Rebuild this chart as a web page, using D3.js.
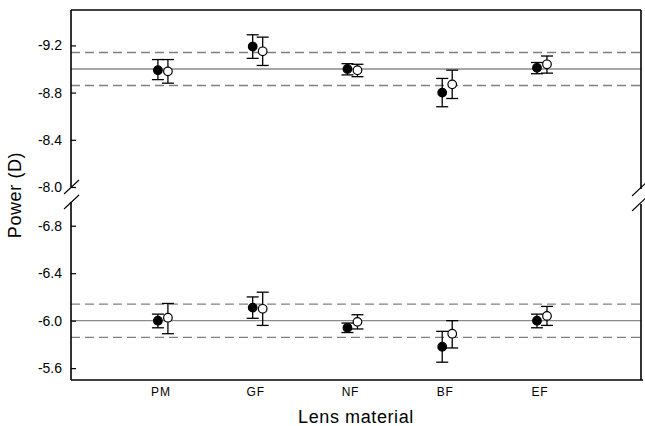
<!DOCTYPE html>
<html><head><meta charset="utf-8">
<script src="https://cdn.jsdelivr.net/npm/d3@7"></script>
<style>body{margin:0;background:#fff}svg{display:block}text{font-family:Arial,"Liberation Sans",sans-serif}</style>
</head><body><svg id="c" width="645" height="426"></svg>
<script>
const categories = ["PM","GF","NF","BF","EF"];
// Upper panel (nominal -9.00 D)
const topFilledMean = [-8.99,-9.19,-9.00,-8.80,-9.01];
const topFilledLo   = [-9.08,-9.29,-9.045,-8.92,-9.055];
const topFilledHi   = [-8.91,-9.09,-8.95,-8.68,-8.96];
const topOpenMean   = [-8.98,-9.15,-8.99,-8.87,-9.04];
const topOpenLo     = [-9.08,-9.27,-9.04,-8.99,-9.11];
const topOpenHi     = [-8.88,-9.03,-8.935,-8.75,-8.965];
// Lower panel (nominal -6.00 D)
const botFilledMean = [-6.00,-6.11,-5.94,-5.78,-6.00];
const botFilledLo   = [-6.055,-6.20,-5.98,-5.91,-6.055];
const botFilledHi   = [-5.94,-6.02,-5.90,-5.65,-5.94];
const botOpenMean   = [-6.025,-6.10,-5.99,-5.89,-6.04];
const botOpenLo     = [-6.145,-6.24,-6.05,-6.00,-6.12];
const botOpenHi     = [-5.89,-5.96,-5.93,-5.77,-5.96];
const nominals = [-9.0, -6.0];
const tolerance = 0.14;
const topTicks = [-9.2,-8.8,-8.4,-8.0];
const botTicks = [-6.8,-6.4,-6.0,-5.6];

const svg = d3.select("#c");
const L = 71, R = 641;
const x = d3.scaleLinear().domain([0.03, 6.045]).range([L, R]);
const yTop = d3.scaleLinear().domain([-9.5, -8.0]).range([10, 187]);
const yBot = d3.scaleLinear().domain([-7.0, -5.5]).range([202, 380]);
const off = 5, cap = 6, r = 4.3;

function panel(y, nominal, fm, flo, fhi, om, olo, ohi){
  const g = svg.append("g");
  g.append("line").attr("x1",L).attr("x2",R).attr("y1",y(nominal)).attr("y2",y(nominal))
    .attr("stroke","#8a8a8a").attr("stroke-width",1.3);
  [nominal - tolerance, nominal + tolerance].forEach(v=>{
    g.append("line").attr("x1",L).attr("x2",R).attr("y1",y(v)).attr("y2",y(v))
      .attr("stroke","#808080").attr("stroke-width",1.3).attr("stroke-dasharray","9,5");
  });
  const series = [
    {m:fm, lo:flo, hi:fhi, dx:-off, fill:"#000"},
    {m:om, lo:olo, hi:ohi, dx:off, fill:"#fff"}
  ];
  series.forEach(s=>{
    categories.forEach((c,i)=>{
      const cx = x(i+1)+s.dx;
      g.append("line").attr("x1",cx).attr("x2",cx).attr("y1",y(s.lo[i])).attr("y2",y(s.hi[i]))
        .attr("stroke","#000").attr("stroke-width",1.3);
      [s.lo[i], s.hi[i]].forEach(v=>{
        g.append("line").attr("x1",cx-cap).attr("x2",cx+cap).attr("y1",y(v)).attr("y2",y(v))
          .attr("stroke","#000").attr("stroke-width",1.3);
      });
    });
  });
  series.forEach(s=>{
    categories.forEach((c,i)=>{
      g.append("circle").attr("cx",x(i+1)+s.dx).attr("cy",y(s.m[i])).attr("r",r)
        .attr("fill",s.fill).attr("stroke","#000").attr("stroke-width",1.2);
    });
  });
}
panel(yTop, nominals[0], topFilledMean, topFilledLo, topFilledHi, topOpenMean, topOpenLo, topOpenHi);
panel(yBot, nominals[1], botFilledMean, botFilledLo, botFilledHi, botOpenMean, botOpenLo, botOpenHi);

function yaxis(y, ticks){
  const a = d3.axisLeft(y).tickValues(ticks).tickSizeInner(-5).tickSizeOuter(0).tickPadding(9)
    .tickFormat(d=>d.toFixed(1));
  const g = svg.append("g").attr("transform",`translate(${L},0)`).call(a);
  g.select(".domain").remove();
  g.selectAll(".tick line").attr("stroke","#000").attr("stroke-width",1.2);
  g.selectAll(".tick text").attr("font-size",14).attr("fill","#000")
    .style("font-family","Arial, 'Liberation Sans', sans-serif");
}
yaxis(yTop, topTicks);
yaxis(yBot, botTicks);

// frame with breaks
const frame = svg.append("g").attr("stroke","#000").attr("stroke-width",1.6).attr("fill","none");
frame.append("line").attr("x1",L).attr("x2",L).attr("y1",yTop.range()[0]).attr("y2",yTop.range()[1]);
frame.append("line").attr("x1",L).attr("x2",L).attr("y1",yBot.range()[0]).attr("y2",yBot.range()[1]);
frame.append("line").attr("x1",L).attr("x2",R).attr("y1",yTop.range()[0]).attr("y2",yTop.range()[0]);
frame.append("line").attr("x1",L).attr("x2",R+2).attr("y1",yBot.range()[1]).attr("y2",yBot.range()[1]);
frame.append("line").attr("x1",R).attr("x2",R).attr("y1",yTop.range()[0]).attr("y2",yTop.range()[1]+2);
frame.append("line").attr("x1",R).attr("x2",R).attr("y1",yBot.range()[0]+2).attr("y2",yBot.range()[1]);
const slash = svg.append("g").attr("stroke","#000").attr("stroke-width",1.1);
[[L, yTop.range()[1]], [L, yBot.range()[0]], [R-2, yTop.range()[1]+2], [R-2, yBot.range()[0]+2]].forEach(([cx,cy])=>{
  slash.append("line").attr("x1",cx-7).attr("y1",cy+7).attr("x2",cx+8).attr("y2",cy-7);
});

// x labels
svg.append("g").selectAll("text").data(categories).join("text")
  .attr("x",(d,i)=>x(i+1)-2).attr("y",396).attr("text-anchor","middle")
  .attr("font-size",12).attr("letter-spacing","0.8px").attr("fill","#000").text(d=>d);

svg.append("text").attr("x",(L+R)/2).attr("y",423).attr("text-anchor","middle")
  .attr("font-size",18).attr("letter-spacing","0.6px").attr("fill","#000").text("Lens material");
svg.append("text").attr("transform","translate(21,195) rotate(-90)").attr("text-anchor","middle")
  .attr("font-size",18).attr("letter-spacing","0.6px").attr("fill","#000").text("Power (D)");
</script></body></html>
